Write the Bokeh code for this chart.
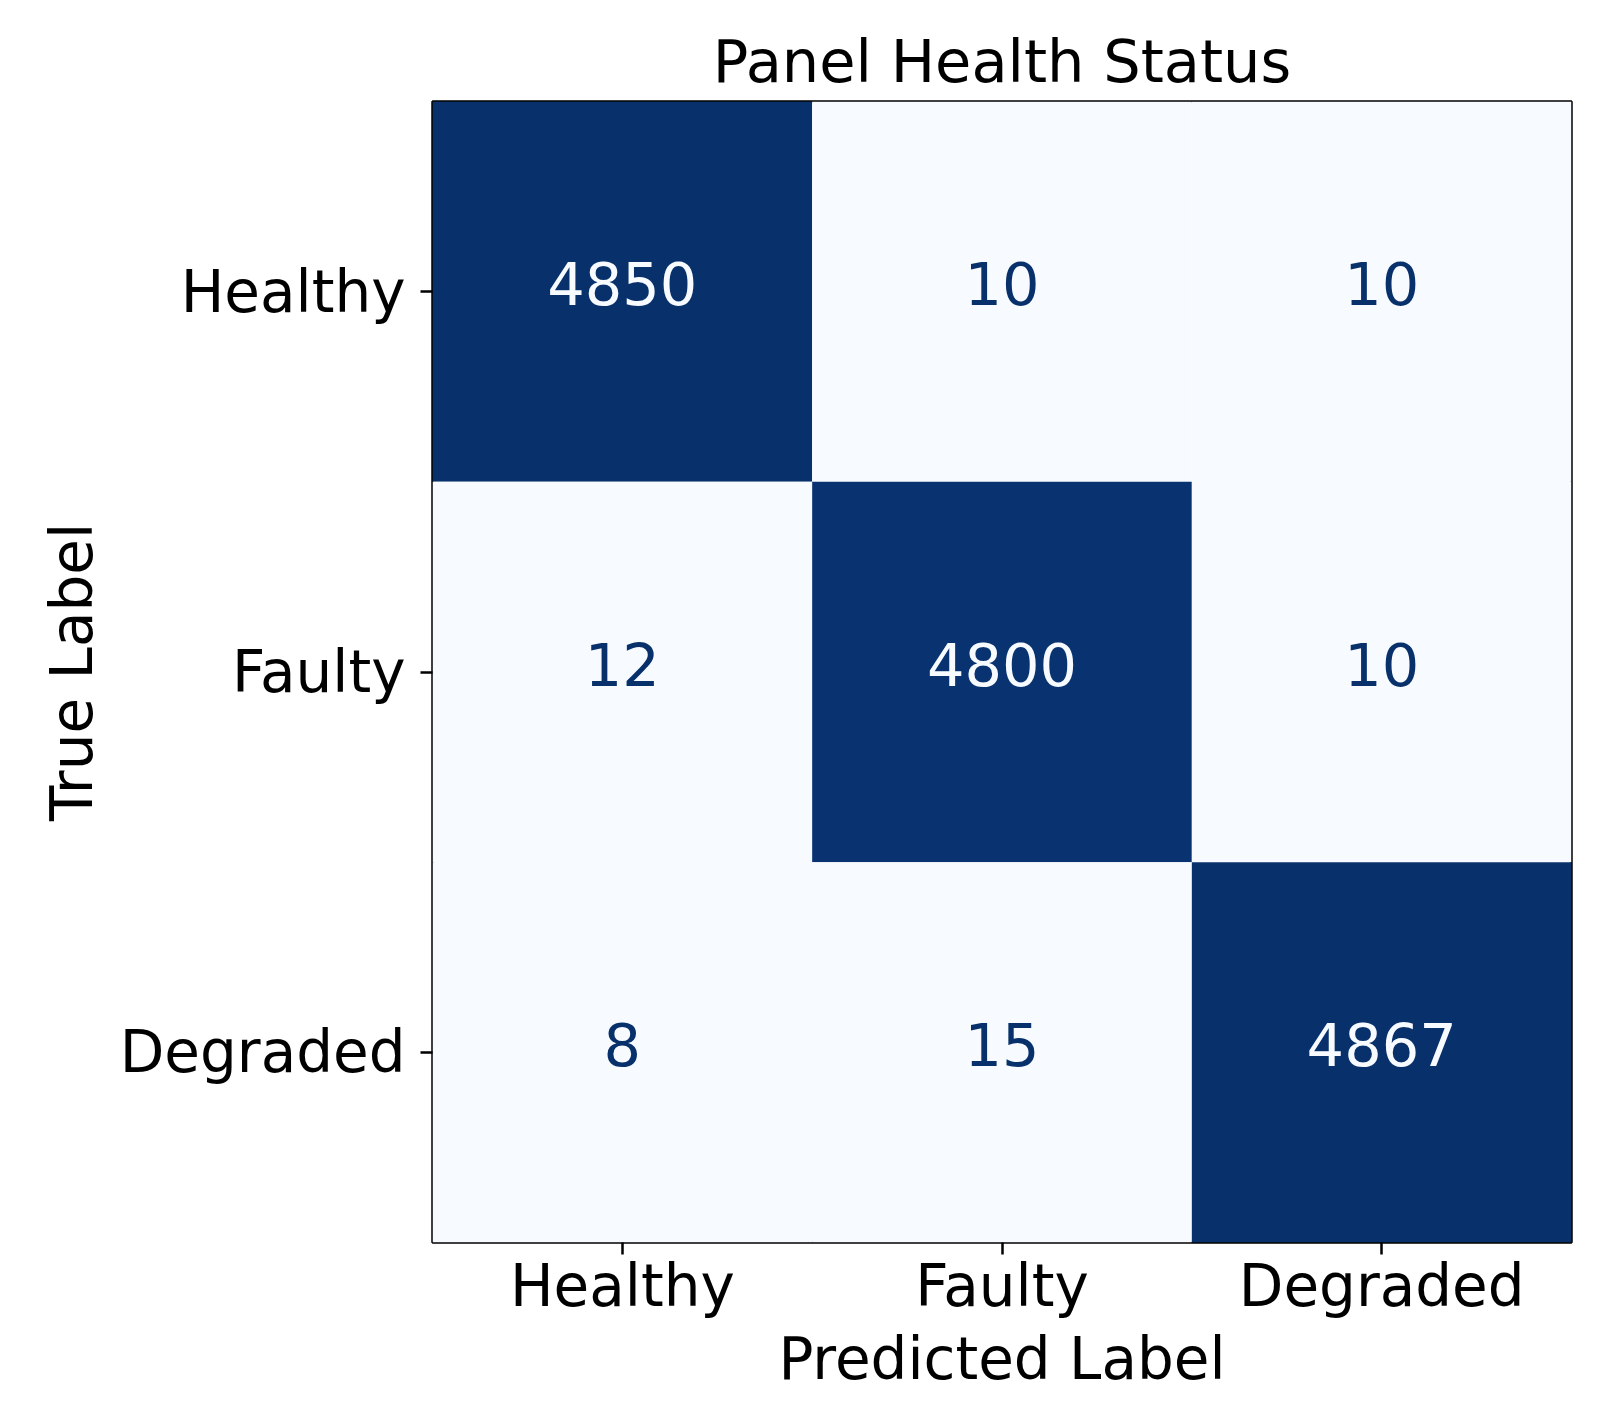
from bokeh.plotting import figure
from bokeh.models import ColumnDataSource, LinearColorMapper
from bokeh.palettes import Blues256
from bokeh.transform import transform
from bokeh.core.properties import value
from bokeh.embed import file_html
from bokeh.resources import INLINE

# Data
classes = ["Healthy", "Faulty", "Degraded"]
true_labels = ["Healthy", "Healthy", "Healthy",
               "Faulty", "Faulty", "Faulty",
               "Degraded", "Degraded", "Degraded"]
pred_labels = ["Healthy", "Faulty", "Degraded",
               "Healthy", "Faulty", "Degraded",
               "Healthy", "Faulty", "Degraded"]
counts = [4850, 10, 10,
          12, 4800, 10,
          8, 15, 4867]

FONT = "DejaVu Sans"
DARK = "#08306b"
LIGHT = "#f7fbff"

lo, hi = min(counts), max(counts)
mid = (lo + hi) / 2.0
text_colors = [LIGHT if c > mid else DARK for c in counts]

source = ColumnDataSource(dict(
    pred=pred_labels,
    true=true_labels,
    count=counts,
    label=[str(c) for c in counts],
    tcolor=text_colors,
))

mapper = LinearColorMapper(palette=list(reversed(Blues256)), low=lo, high=hi)

p = figure(
    x_range=classes,
    y_range=list(reversed(classes)),
    frame_width=1139, frame_height=1141,
    min_border_left=432, min_border_top=101,
    min_border_right=30, min_border_bottom=150,
    output_backend="svg", toolbar_location=None,
    title="Panel Health Status",
)

p.rect(x="pred", y="true", width=1, height=1, source=source,
       fill_color=transform("count", mapper), line_color=None)

p.text(x="pred", y="true", text="label", source=source,
       text_color="tcolor", text_align="center", text_baseline="middle",
       y_offset=-8,
       text_font=value(FONT), text_font_size="59px")

p.title.text_font = FONT
p.title.text_font_size = "59px"
p.title.text_font_style = "normal"
p.title.align = "center"
p.title.text_color = "black"
p.title.standoff = 11

p.x_range.range_padding = 0
p.y_range.range_padding = 0
p.grid.grid_line_color = None
p.outline_line_color = "black"
p.outline_line_width = 2.5
p.outline_line_alpha = 1

for ax in (p.xaxis, p.yaxis):
    ax.axis_line_color = None
    ax.major_tick_line_color = "black"
    ax.major_tick_line_width = 2.5
    ax.major_tick_out = 12
    ax.major_tick_in = 0
    ax.minor_tick_line_color = None
    ax.major_label_text_font = FONT
    ax.major_label_text_font_size = "58px"
    ax.major_label_text_color = "black"
    ax.axis_label_text_font = FONT
    ax.axis_label_text_font_size = "58px"
    ax.axis_label_text_font_style = "normal"
    ax.axis_label_text_color = "black"

p.xaxis.axis_label = "Predicted Label"
p.yaxis.axis_label = "True Label"
p.xaxis.major_label_standoff = -3
p.yaxis.major_label_standoff = 15
p.xaxis.axis_label_standoff = 2
p.yaxis.axis_label_standoff = 11

p.background_fill_color = "white"
p.border_fill_color = "white"

open("out.html", "w").write(file_html(p, INLINE))
